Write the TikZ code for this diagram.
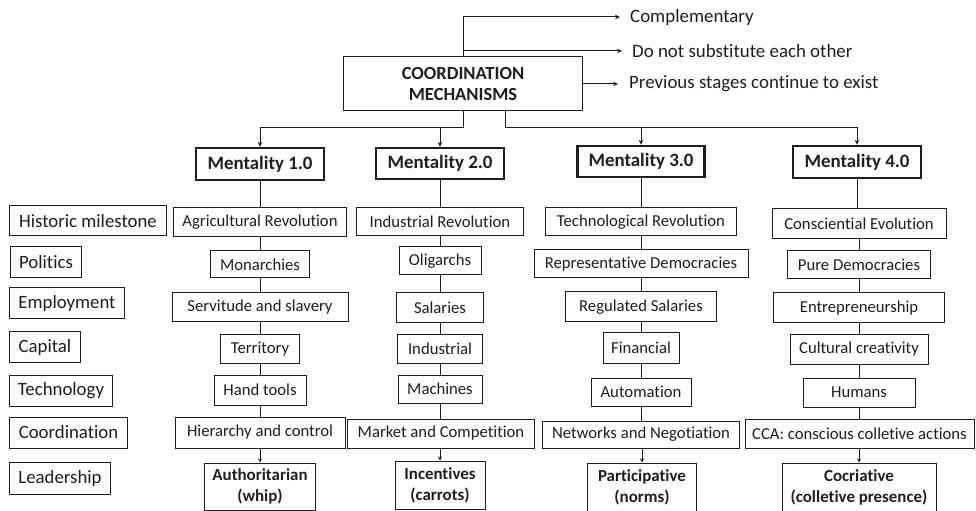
\documentclass[tikz,border=0pt]{standalone}
\usepackage{fontspec}
\setmainfont{Carlito}[Ligatures=NoCommon]
\usetikzlibrary{arrows.meta}
\definecolor{ink}{HTML}{1E1E1E}
\tikzset{
  every node/.style={text=ink},
  cell/.style={draw=ink, line width=1bp, inner sep=0pt, fill=white,
    font=\fontsize{16.7bp}{20bp}\selectfont},
  lab/.style={cell, font=\fontsize{18.8bp}{21bp}\selectfont},
  ment/.style={draw=ink, line width=2.4bp, inner sep=0pt, fill=white,
    font=\fontsize{18.9bp}{21bp}\selectfont\bfseries},
  lead/.style={cell, align=center, font=\fontsize{16.9bp}{21bp}\selectfont\bfseries},
  head/.style={cell, align=center, font=\fontsize{18.5bp}{21bp}\selectfont\bfseries},
  note/.style={inner sep=0pt, anchor=west, font=\fontsize{18.9bp}{21bp}\selectfont},
  link/.style={draw=ink, line width=1bp},
  arr/.style={link, -{Stealth[length=5bp,width=4.5bp]}},
}
\begin{document}
\begin{tikzpicture}[x=1bp,y=-1bp]
\useasboundingbox (0,0) rectangle (976,511);

% central box and notes
\node[head, minimum width=239bp, minimum height=54bp] (coord) at (463,84) {COORDINATION\\MECHANISMS};
\node[note] (t1) at (630,17) {Complementary};
\node[note] (t2) at (632,51) {Do not substitute each other};
\node[note] (t3) at (629,84) {Previous stages continue to exist};
\draw[arr, shorten >=10bp] (coord.north) |- (t1.west);
\draw[arr, shorten >=10bp] (coord.north |- t2.west) -- (t2.west);
\draw[arr, shorten >=11bp] (coord.east |- t3.west) -- (t3.west);

% mentality boxes
\node[ment, minimum width=128bp, minimum height=32bp] (m1) at (260,164) {Mentality 1.0};
\node[ment, minimum width=128bp, minimum height=31bp] (m2) at (440,163.5) {Mentality 2.0};
\node[ment, minimum width=127bp, minimum height=31bp] (m3) at (641,161.5) {Mentality 3.0};
\node[ment, minimum width=128bp, minimum height=32bp] (m4) at (857,162) {Mentality 4.0};

\coordinate (bus) at (0,128);
\coordinate (tap) at (505,111);
\draw[arr] (coord.south) -- (coord.south |- bus) -| (m1.north);
\draw[arr] (m2.north |- bus) -- (m2.north);
\draw[arr] (tap) -- (tap |- bus) -| (m4.north);
\draw[arr] (m3.north |- bus) -- (m3.north);

% row labels
\node[lab, minimum width=156bp, minimum height=30bp] (l1) at (88,221) {Historic milestone};
\node[lab, minimum width=70bp, minimum height=31bp] (l2) at (46,262.5) {Politics};
\node[lab, minimum width=114bp, minimum height=31bp] (l3) at (67,303.5) {Employment};
\node[lab, minimum width=70bp, minimum height=30bp] (l4) at (45,347) {Capital};
\node[lab, minimum width=102bp, minimum height=31bp] (l5) at (61,390.5) {Technology};
\node[lab, minimum width=117bp, minimum height=31bp] (l6) at (68.5,432.5) {Coordination};
\node[lab, minimum width=100bp, minimum height=32bp] (l7) at (60,478) {Leadership};

% column 1
\node[cell, minimum width=173bp, minimum height=29bp] (a1) at (260,222.5) {Agricultural Revolution};
\node[cell, minimum width=99bp, minimum height=27bp] (a2) at (260,264.5) {Monarchies};
\node[cell, minimum width=176bp, minimum height=29bp] (a3) at (260,307.5) {Servitude and slavery};
\node[cell, minimum width=79bp, minimum height=28bp] (a4) at (260,349) {Territory};
\node[cell, minimum width=92bp, minimum height=30bp] (a5) at (260,390) {Hand tools};
\node[cell, minimum width=170bp, minimum height=31bp] (a6) at (260,432.5) {Hierarchy and control};
\node[lead, minimum width=111bp, minimum height=47bp] (a7) at (260,486.5) {Authoritarian\\(whip)};

% column 2
\node[cell, minimum width=167bp, minimum height=28bp] (b1) at (440,222) {Industrial Revolution};
\node[cell, minimum width=82bp, minimum height=28bp] (b2) at (440,261) {Oligarchs};
\node[cell, minimum width=87bp, minimum height=30bp] (b3) at (440,308) {Salaries};
\node[cell, minimum width=85bp, minimum height=28bp] (b4) at (440,349) {Industrial};
\node[cell, minimum width=84bp, minimum height=28bp] (b5) at (440,389) {Machines};
\node[cell, minimum width=187bp, minimum height=29bp] (b6) at (441,433.5) {Market and Competition};
\node[lead, minimum width=90bp, minimum height=48bp] (b7) at (440,485) {Incentives\\(carrots)};

% column 3
\node[cell, minimum width=191bp, minimum height=28bp] (c1) at (641,222) {Technological Revolution};
\node[cell, minimum width=214bp, minimum height=28bp] (c2) at (641,264) {Representative Democracies};
\node[cell, minimum width=151bp, minimum height=30bp] (c3) at (641,307) {Regulated Salaries};
\node[cell, minimum width=76bp, minimum height=30bp] (c4) at (641,348) {Financial};
\node[cell, minimum width=100bp, minimum height=28bp] (c5) at (641,392) {Automation};
\node[cell, minimum width=197bp, minimum height=27bp] (c6) at (641,434.5) {Networks and Negotiation};
\node[lead, minimum width=109bp, minimum height=48bp] (c7) at (642,487) {Participative\\(norms)};

% column 4
\node[cell, minimum width=174bp, minimum height=30bp] (d1) at (859,224) {Consciential Evolution};
\node[cell, minimum width=143bp, minimum height=28bp] (d2) at (859,265) {Pure Democracies};
\node[cell, minimum width=171bp, minimum height=30bp] (d3) at (859,308) {Entrepreneurship};
\node[cell, minimum width=138bp, minimum height=29bp] (d4) at (859,349.5) {Cultural creativity};
\node[cell, minimum width=112bp, minimum height=29bp] (d5) at (859,392.5) {Humans};
\node[cell, minimum width=229bp, minimum height=29bp] (d6) at (859.5,433.5) {CCA: conscious colletive actions};
\node[lead, minimum width=154bp, minimum height=48bp] (d7) at (859,487) {Cocriative\\(colletive presence)};

% vertical links
\foreach \m/\c in {m1/a,m2/b,m3/c,m4/d}{
  \draw[link] (\m.south) -- (\m.south |- \c1.north);
  \draw[link] (\c1.south) -- (\c1.south |- \c2.north);
  \draw[link] (\c2.south) -- (\c2.south |- \c3.north);
  \draw[link] (\c3.south) -- (\c3.south |- \c4.north);
  \draw[link] (\c4.south) -- (\c4.south |- \c5.north);
  \draw[link] (\c5.south) -- (\c5.south |- \c6.north);
  \draw[arr, -{Stealth[length=4bp,width=4bp]}] (\c7.north |- \c6.south) -- (\c7.north);
}
\end{tikzpicture}
\end{document}
